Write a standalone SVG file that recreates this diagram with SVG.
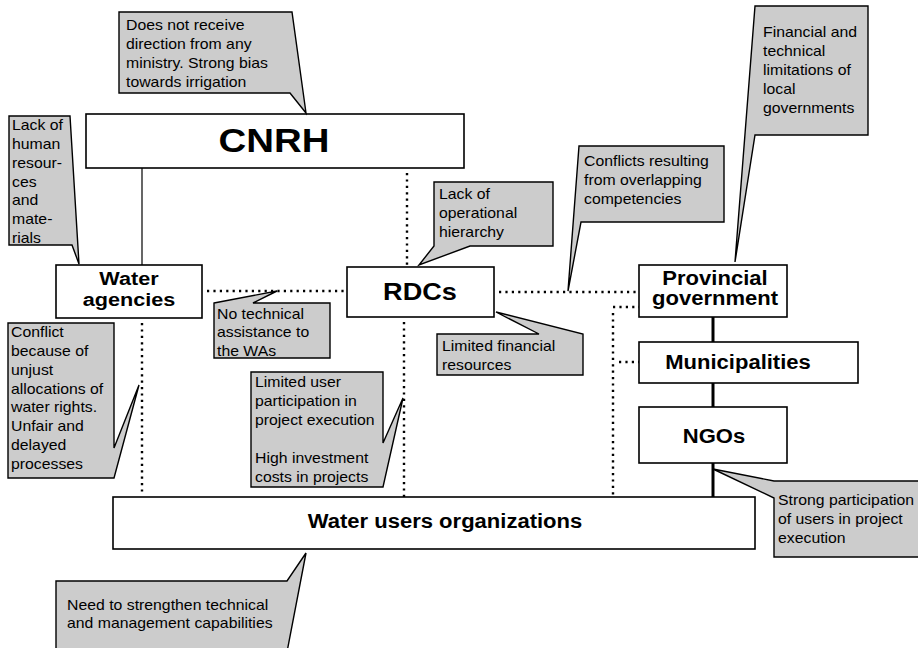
<svg xmlns="http://www.w3.org/2000/svg" width="918" height="648" viewBox="0 0 918 648">
<style>
.box{fill:#ffffff;stroke:#000000;stroke-width:1.6}
.co{fill:#cccccc;stroke:#000000;stroke-width:1.4;stroke-linejoin:miter}
.t{font-family:"Liberation Sans",Arial,sans-serif;font-size:14px;fill:#000000}
.b{font-family:"Liberation Sans",Arial,sans-serif;font-weight:bold;fill:#000000;text-anchor:middle}
.dot{fill:none;stroke:#000000;stroke-width:2.4;stroke-dasharray:2.2 4.2}
.sol{fill:none;stroke:#000000;stroke-width:1.2}
.thick{fill:none;stroke:#000000;stroke-width:3}
</style>
<rect width="918" height="648" fill="#ffffff"/>

<g id="connectors">
  <line class="sol" x1="142" y1="168" x2="142" y2="265"/>
  <line class="dot" x1="407" y1="173" x2="407" y2="265"/>
  <line class="dot" x1="207" y1="291" x2="347" y2="291"/>
  <line class="dot" x1="499" y1="292" x2="639" y2="292"/>
  <line class="dot" x1="142" y1="323" x2="142" y2="495"/>
  <line class="dot" x1="404" y1="322" x2="404" y2="497"/>
  <line class="dot" x1="613" y1="307" x2="639" y2="307"/>
  <line class="dot" x1="613" y1="313" x2="613" y2="495"/>
  <line class="dot" x1="619" y1="362" x2="639" y2="362"/>
  <line class="thick" x1="713" y1="317" x2="713" y2="342"/>
  <line class="thick" x1="713" y1="383" x2="713" y2="407"/>
  <line class="thick" x1="713" y1="463" x2="713" y2="497"/>
</g>

<g id="cnrh">
  <rect class="box" x="86" y="114" width="378" height="54"/>
  <g transform="translate(274,0) scale(1.13,1)"><text class="b" x="0" y="152" font-size="34">CNRH</text></g>
</g>

<g id="water-agencies">
  <rect class="box" x="56" y="265" width="146" height="53"/>
  <g transform="translate(129,0) scale(1.17,1)">
    <text class="b" x="0" y="285" font-size="18.5">Water</text>
    <text class="b" x="0" y="306" font-size="18.5">agencies</text>
  </g>
</g>

<g id="rdcs">
  <rect class="box" x="347" y="267" width="147" height="50"/>
  <g transform="translate(420,0) scale(1.13,1)"><text class="b" x="0" y="300" font-size="24">RDCs</text></g>
</g>

<g id="provincial-government">
  <rect class="box" x="639" y="265" width="148" height="52"/>
  <g transform="translate(715,0) scale(1.13,1)">
    <text class="b" x="0" y="285" font-size="19.5">Provincial</text>
    <text class="b" x="0" y="305" font-size="19.5">government</text>
  </g>
</g>

<g id="municipalities">
  <rect class="box" x="639" y="342" width="219" height="41"/>
  <g transform="translate(738,0) scale(1.13,1)"><text class="b" x="0" y="369" font-size="19.5">Municipalities</text></g>
</g>

<g id="ngos">
  <rect class="box" x="639" y="407" width="148" height="56"/>
  <g transform="translate(714,0) scale(1.13,1)"><text class="b" x="0" y="443" font-size="19.5">NGOs</text></g>
</g>

<g id="water-users-organizations">
  <rect class="box" x="113" y="497" width="642" height="52"/>
  <g transform="translate(445,0) scale(1.13,1)"><text class="b" x="0" y="528" font-size="19.5">Water users organizations</text></g>
</g>

<g id="callout-cnrh">
  <polygon class="co" points="119,12 292,12 306,113 290,93 119,93"/>
  <g class="t" transform="translate(126,0) scale(1.13,1)">
    <text x="0" y="30">Does not receive</text>
    <text x="0" y="49">direction from any</text>
    <text x="0" y="68">ministry.  Strong bias</text>
    <text x="0" y="87">towards irrigation</text>
  </g>
</g>

<g id="callout-wa-resources">
  <polygon class="co" points="9,116 70,116 79,264 72,245 9,245"/>
  <g class="t" transform="translate(12,0) scale(1.13,1)">
    <text x="0" y="130">Lack of</text>
    <text x="0" y="149">human</text>
    <text x="0" y="168">resour-</text>
    <text x="0" y="187">ces</text>
    <text x="0" y="205">and</text>
    <text x="0" y="224">mate-</text>
    <text x="0" y="243">rials</text>
  </g>
</g>

<g id="callout-rdc-hierarchy">
  <polygon class="co" points="434,182 553,182 553,246 470,246 419,265 434,246"/>
  <g class="t" transform="translate(439,0) scale(1.13,1)">
    <text x="0" y="199">Lack of</text>
    <text x="0" y="218">operational</text>
    <text x="0" y="237">hierarchy</text>
  </g>
</g>

<g id="callout-rdc-finance">
  <polygon class="co" points="437,334 539,334 496,312 583,334 583,375 437,375"/>
  <g class="t" transform="translate(442,0) scale(1.13,1)">
    <text x="0" y="351">Limited financial</text>
    <text x="0" y="370">resources</text>
  </g>
</g>

<g id="callout-overlap">
  <polygon class="co" points="579,146 724,146 724,222 581,222 568,291"/>
  <g class="t" transform="translate(584,0) scale(1.13,1)">
    <text x="0" y="166">Conflicts resulting</text>
    <text x="0" y="185">from overlapping</text>
    <text x="0" y="204">competencies</text>
  </g>
</g>

<g id="callout-local-gov">
  <polygon class="co" points="755,6 868,6 868,135 755,135 735,262"/>
  <g class="t" transform="translate(763,0) scale(1.13,1)">
    <text x="0" y="37">Financial and</text>
    <text x="0" y="56">technical</text>
    <text x="0" y="75">limitations of</text>
    <text x="0" y="94">local</text>
    <text x="0" y="113">governments</text>
  </g>
</g>

<g id="callout-no-assistance">
  <polygon class="co" points="214,303 277,291 253,303 330,303 330,358 214,358"/>
  <g class="t" transform="translate(217,0) scale(1.13,1)">
    <text x="0" y="319">No technical</text>
    <text x="0" y="337.5">assistance to</text>
    <text x="0" y="356">the WAs</text>
  </g>
</g>

<g id="callout-wa-conflict">
  <polygon class="co" points="8,323 114,323 114,448 139,385 114,478 8,478"/>
  <g class="t" transform="translate(11,0) scale(1.13,1)">
    <text x="0" y="337">Conflict</text>
    <text x="0" y="356">because of</text>
    <text x="0" y="375">unjust</text>
    <text x="0" y="394">allocations of</text>
    <text x="0" y="412">water rights.</text>
    <text x="0" y="431">Unfair and</text>
    <text x="0" y="450">delayed</text>
    <text x="0" y="469">processes</text>
  </g>
</g>

<g id="callout-rdc-participation">
  <polygon class="co" points="251,372 383,372 383,443 403,398 383,487 251,487"/>
  <g class="t" transform="translate(255,0) scale(1.13,1)">
    <text x="0" y="387">Limited user</text>
    <text x="0" y="406">participation in</text>
    <text x="0" y="425">project execution</text>
    <text x="0" y="463">High investment</text>
    <text x="0" y="482">costs in projects</text>
  </g>
</g>

<g id="callout-ngo">
  <polygon class="co" points="774,481 921,481 921,557 774,557 774,498 713,469"/>
  <g class="t" transform="translate(778,0) scale(1.13,1)">
    <text x="0" y="505">Strong participation</text>
    <text x="0" y="524">of users in project</text>
    <text x="0" y="543">execution</text>
  </g>
</g>

<g id="callout-wuo">
  <polygon class="co" points="56,581 287,581 306,553 287,652 56,652"/>
  <g class="t" transform="translate(67,0) scale(1.13,1)">
    <text x="0" y="610">Need to strengthen technical</text>
    <text x="0" y="628">and management capabilities</text>
  </g>
</g>
</svg>
